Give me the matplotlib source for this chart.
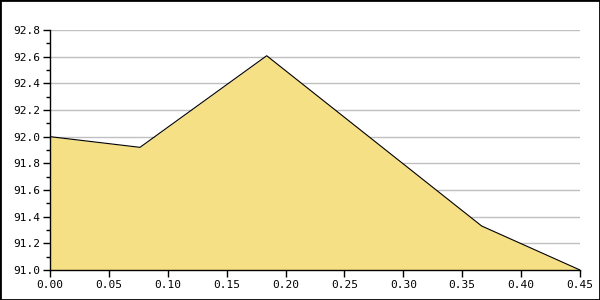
import matplotlib
matplotlib.use("Agg")
import matplotlib.pyplot as plt
from matplotlib.patches import Rectangle
from matplotlib.ticker import MultipleLocator

# data
x_vals = [0.0, 0.0764, 0.184, 0.3665, 0.45]
y_vals = [92.0, 91.92, 92.607, 91.33, 91.0]

fill_color = "#F6E085"

fig = plt.figure(figsize=(6, 3), dpi=100)
ax = fig.add_axes([50 / 600, 30 / 300, 530 / 600, 240 / 300])

ax.fill_between(x_vals, y_vals, 91.0, color=fill_color, linewidth=0, zorder=2)
ax.plot(x_vals, y_vals, color="black", linewidth=0.8, zorder=3)

ax.set_xlim(0, 0.45)
ax.set_ylim(91.0, 92.8)
ax.xaxis.set_major_locator(MultipleLocator(0.05))
ax.yaxis.set_major_locator(MultipleLocator(0.2))
ax.yaxis.set_minor_locator(MultipleLocator(0.1))
ax.xaxis.set_major_formatter(lambda v, p: f"{v:.2f}")
ax.yaxis.set_major_formatter(lambda v, p: f"{v:.1f}")

ax.grid(axis="y", which="major", color="#C0C0C0", linewidth=1, zorder=1)
ax.set_axisbelow(True)

for side in ("top", "right"):
    ax.spines[side].set_visible(False)
for side in ("left", "bottom"):
    ax.spines[side].set_linewidth(1)
    ax.spines[side].set_zorder(4)

ax.tick_params(which="major", length=5, width=1, labelsize=8, pad=2)
ax.tick_params(which="minor", length=3, width=1)
for lbl in ax.get_xticklabels() + ax.get_yticklabels():
    lbl.set_fontfamily("DejaVu Sans Mono")

# outer frame
fig.patches.append(Rectangle((0, 0), 1, 1, transform=fig.transFigure,
                             fill=False, edgecolor="black", linewidth=2))

fig.savefig("out.png", dpi=100)
